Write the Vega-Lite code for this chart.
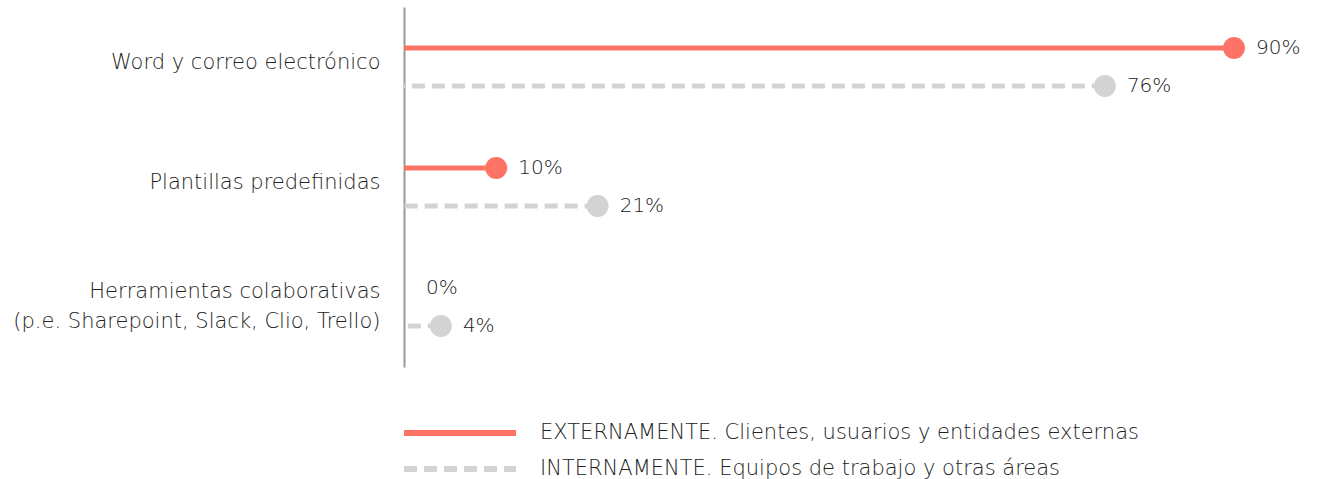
{
  "$schema": "https://vega.github.io/schema/vega-lite/v6.json",
  "width": 830,
  "height": 360,
  "autosize": "none",
  "padding": {"left": 404, "top": 7, "right": 83, "bottom": 112},
  "background": "white",
  "config": {"view": {"stroke": null}, "font": "DejaVu Sans"},
  "data": {
    "values": [
      {"categoria": "Word y correo electrónico", "serie": "EXTERNAMENTE. Clientes, usuarios y entidades externas", "valor": 0.90},
      {"categoria": "Word y correo electrónico", "serie": "INTERNAMENTE. Equipos de trabajo y otras áreas", "valor": 0.76},
      {"categoria": "Plantillas predefinidas", "serie": "EXTERNAMENTE. Clientes, usuarios y entidades externas", "valor": 0.10},
      {"categoria": "Plantillas predefinidas", "serie": "INTERNAMENTE. Equipos de trabajo y otras áreas", "valor": 0.21},
      {"categoria": "Herramientas colaborativas|(p.e. Sharepoint, Slack, Clio, Trello)", "serie": "EXTERNAMENTE. Clientes, usuarios y entidades externas", "valor": 0.0},
      {"categoria": "Herramientas colaborativas|(p.e. Sharepoint, Slack, Clio, Trello)", "serie": "INTERNAMENTE. Equipos de trabajo y otras áreas", "valor": 0.04}
    ]
  },
  "encoding": {
    "y": {
      "field": "categoria", "type": "nominal", "sort": null,
      "scale": {"paddingInner": 0, "paddingOuter": 0},
      "axis": {
        "title": null, "ticks": false, "labelPadding": 24, "labelFontSize": 21,
        "labelColor": "#222222", "labelFont": "DejaVu Sans", "labelFontWeight": 200,
        "domainColor": "#999999", "domainWidth": 2, "labelLimit": 0,
        "labelExpr": "split(datum.label, '|')", "labelLineHeight": 30,
        "labelOffset": {"condition": {"test": "indexof(datum.label, '|') >= 0", "value": -15}, "value": -4}
      }
    },
    "yOffset": {
      "field": "serie", "type": "nominal", "sort": null,
      "scale": {"paddingOuter": 0.58, "paddingInner": 0}
    },
    "x": {"field": "valor", "type": "quantitative", "scale": {"domain": [0, 0.9]}, "axis": null}
  },
  "layer": [
    {
      "mark": {"type": "rule", "strokeWidth": 5},
      "encoding": {
        "x2": {"datum": 0},
        "color": {
          "field": "serie", "type": "nominal", "sort": null,
          "scale": {"range": ["#FF7366", "#D3D3D3"]},
          "legend": null
        },
        "strokeDash": {
          "field": "serie", "type": "nominal", "sort": null,
          "scale": {"range": [[1, 0], [13, 7]]},
          "legend": {
            "orient": "none", "legendX": 39, "legendY": 409, "title": null,
            "symbolType": "M-4,0H4", "symbolSize": 784, "symbolStrokeWidth": 6,
            "symbolStrokeColor": {"expr": "indexof(datum.value, 'EXTERNAMENTE') === 0 ? '#FF7366' : '#D3D3D3'"},
            "rowPadding": 7,
            "labelFontSize": 21, "labelOffset": 63, "labelColor": "#222222",
            "labelFont": "DejaVu Sans", "labelFontWeight": 200, "labelLimit": 0
          }
        }
      }
    },
    {
      "transform": [{"filter": "datum.valor > 0"}],
      "mark": {"type": "circle", "size": 480, "opacity": 1},
      "encoding": {
        "color": {"field": "serie", "type": "nominal", "sort": null, "legend": null}
      }
    },
    {
      "mark": {"type": "text", "align": "left", "baseline": "middle", "dx": 22, "fontSize": 20, "fontWeight": 200, "color": "#222222"},
      "encoding": {
        "text": {"field": "valor", "type": "quantitative", "format": ".0%"}
      }
    }
  ]
}
